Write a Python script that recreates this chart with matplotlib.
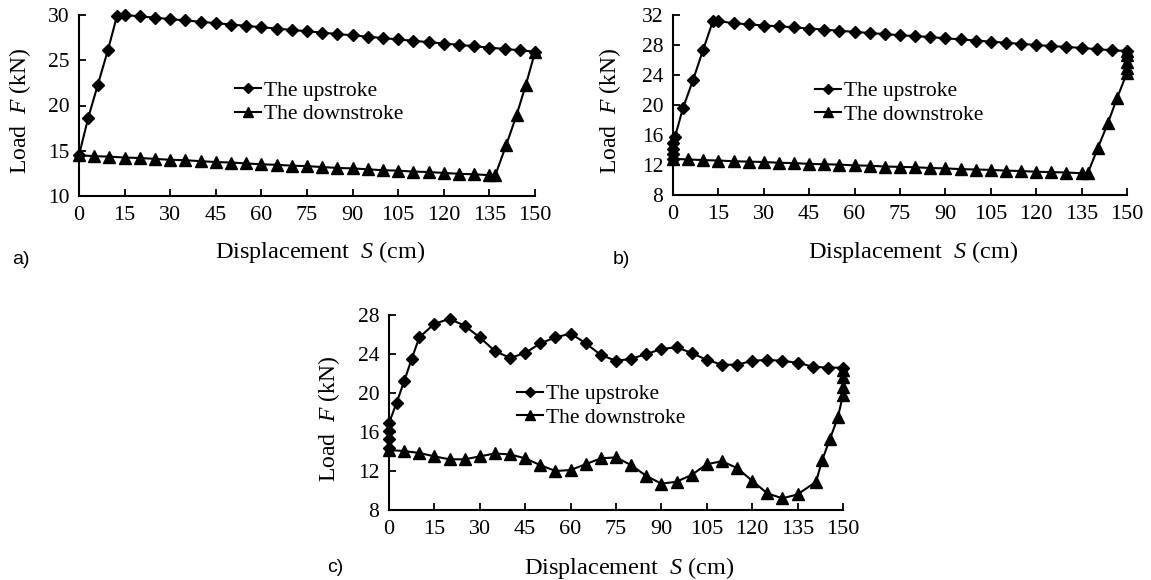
import matplotlib
matplotlib.use('Agg')
import matplotlib.pyplot as plt

# ---------------- data ----------------
x_ticks = [0, 15, 30, 45, 60, 75, 90, 105, 120, 135, 150]
series_names = ['The upstroke', 'The downstroke']

# panel a
a_up_s = [0, 3, 6.2, 9.5, 12.5, 15, 20, 25, 30, 35, 40, 45, 50, 55, 60, 65, 70, 75, 80,
          85, 90, 95, 100, 105, 110, 115, 120, 125, 130, 135, 140, 145, 150]
a_up_f = [14.5, 18.6, 22.3, 26.1, 29.9, 30.0, 29.85, 29.7, 29.55, 29.4, 29.25, 29.1, 28.95,
          28.8, 28.65, 28.5, 28.35, 28.2, 28.05, 27.9, 27.75, 27.6, 27.45, 27.3, 27.15, 27.0,
          26.85, 26.7, 26.55, 26.4, 26.25, 26.1, 25.95]
a_down_s = [150, 147, 144, 140.5, 137, 135, 130, 125, 120, 115, 110, 105, 100, 95, 90, 85,
            80, 75, 70, 65, 60, 55, 50, 45, 40, 35, 30, 25, 20, 15, 10, 5, 0]
a_down_f = [25.9, 22.3, 19.0, 15.6, 12.35, 12.3, 12.4, 12.45, 12.55, 12.65, 12.7, 12.8, 12.85,
            12.95, 13.05, 13.1, 13.2, 13.3, 13.35, 13.45, 13.5, 13.6, 13.7, 13.75, 13.85,
            13.95, 14.0, 14.1, 14.2, 14.25, 14.35, 14.4, 14.5]
a_yticks = [10, 15, 20, 25, 30]

# panel b
b_up_s = [0, 0, 0, 0, 0.7, 3.3, 6.6, 9.9, 13.2, 15, 20, 25, 30, 35, 40, 45, 50, 55, 60, 65,
          70, 75, 80, 85, 90, 95, 100, 105, 110, 115, 120, 125, 130, 135, 140, 145, 150]
b_up_f = [12.8, 13.5, 14.2, 14.9, 15.8, 19.6, 23.3, 27.3, 31.2, 31.2, 30.9, 30.75, 30.6,
          30.5, 30.35, 30.2, 30.05, 29.9, 29.75, 29.6, 29.45, 29.3, 29.2, 29.05, 28.9, 28.75,
          28.6, 28.45, 28.3, 28.15, 28.0, 27.85, 27.75, 27.6, 27.45, 27.3, 27.2]
b_down_s = [150, 150, 150, 150, 150, 146.7, 143.7, 140.4, 137.1, 135, 130, 125, 120, 115,
            110, 105, 100, 95, 90, 85, 80, 75, 70, 65, 60, 55, 50, 45, 40, 35, 30, 25, 20,
            15, 10, 5, 0]
b_down_f = [27.2, 26.7, 25.7, 24.9, 24.3, 20.9, 17.6, 14.3, 10.95, 10.9, 11.0, 11.05, 11.1,
            11.2, 11.25, 11.35, 11.4, 11.45, 11.55, 11.6, 11.7, 11.75, 11.8, 11.9, 11.95,
            12.05, 12.1, 12.15, 12.25, 12.3, 12.4, 12.45, 12.5, 12.6, 12.65, 12.75, 12.8]
b_yticks = [8, 12, 16, 20, 24, 28, 32]

# panel c
c_up_s = [0, 0, 0, 0, 2.5, 5, 7.5, 10, 15, 20, 25, 30, 35, 40, 45, 50, 55, 60, 65, 70, 75,
          80, 85, 90, 95, 100, 105, 110, 115, 120, 125, 130, 135, 140, 145, 150]
c_up_f = [14.4, 15.3, 16.1, 16.9, 19.0, 21.2, 23.5, 25.7, 27.1, 27.6, 26.9, 25.7, 24.3,
          23.6, 24.1, 25.1, 25.7, 26.1, 25.1, 23.9, 23.3, 23.5, 24.0, 24.5, 24.7, 24.1,
          23.4, 22.9, 22.9, 23.3, 23.4, 23.3, 23.1, 22.7, 22.6, 22.6]
c_down_s = [150, 150, 150, 150, 148.3, 145.7, 143.1, 141.1, 135, 130, 125, 120, 115, 110,
            105, 100, 95, 90, 85, 80, 75, 70, 65, 60, 55, 50, 45, 40, 35, 30, 25, 20, 15,
            10, 5, 0]
c_down_f = [22.4, 21.6, 20.6, 19.8, 17.5, 15.3, 13.1, 10.9, 9.6, 9.2, 9.7, 11.0, 12.3, 13.0,
            12.7, 11.6, 10.9, 10.7, 11.5, 12.6, 13.4, 13.3, 12.7, 12.1, 12.0, 12.6, 13.3,
            13.7, 13.8, 13.5, 13.2, 13.2, 13.5, 13.85, 14.05, 14.15]
c_yticks = [8, 12, 16, 20, 24, 28]

# ---------------- style ----------------
plt.rcParams['font.family'] = ['Liberation Serif', 'DejaVu Serif']
plt.rcParams['mathtext.fontset'] = 'custom'
plt.rcParams['mathtext.it'] = 'Liberation Serif:italic'
plt.rcParams['mathtext.rm'] = 'Liberation Serif'

W, H = 1151, 580
fig = plt.figure(figsize=(W / 100, H / 100), dpi=100)


def px_rect(left, top, right, bottom):
    return [left / W, 1 - bottom / H, (right - left) / W, (bottom - top) / H]


panels = [
    dict(rect=px_rect(79, 15, 535, 196), up=(a_up_s, a_up_f), down=(a_down_s, a_down_f),
         yticks=a_yticks, leg=(0.342, 0.516), xlab=(0.528, -0.24), ylab=-0.10,
         tag='a)', tag_xy=(12, 259)),
    dict(rect=px_rect(673, 15, 1127, 195), up=(b_up_s, b_up_f), down=(b_down_s, b_down_f),
         yticks=b_yticks, leg=(0.313, 0.511), xlab=(0.528, -0.245), ylab=-0.11,
         tag='b)', tag_xy=(613, 259)),
    dict(rect=px_rect(389, 315, 843, 510), up=(c_up_s, c_up_f), down=(c_down_s, c_down_f),
         yticks=c_yticks, leg=(0.282, 0.533), xlab=(0.528, -0.23), ylab=-0.104,
         tag='c)', tag_xy=(327, 567)),
]

for p in panels:
    ax = fig.add_axes(p['rect'])
    ax.plot(p['up'][0], p['up'][1], color='black', lw=1.5, marker='D', ms=6.5,
            clip_on=False, zorder=3, label=series_names[0])
    ax.plot(p['down'][0], p['down'][1], color='black', lw=1.5, marker='^', ms=8.5,
            clip_on=False, zorder=4, label=series_names[1])
    ax.set_xlim(0, 150)
    ax.set_ylim(p['yticks'][0], p['yticks'][-1])
    ax.set_xticks(x_ticks)
    ax.set_yticks(p['yticks'])
    for s in ['top', 'right']:
        ax.spines[s].set_visible(False)
    for s in ['left', 'bottom']:
        ax.spines[s].set_linewidth(1.5)
    ax.tick_params(direction='in', length=5, width=1.3, pad=7, colors='black')
    ax.tick_params(axis='x', labelsize=16)
    ax.tick_params(axis='y', labelsize=15.5)
    ax.set_xlabel('Displacement  $S$ (cm)', fontsize=17.5)
    ax.xaxis.set_label_coords(*p['xlab'])
    ax.set_ylabel('Load  $F$ (kN)', fontsize=17)
    ax.yaxis.set_label_coords(p['ylab'], 0.47)
    ax.legend(loc='center left', bbox_to_anchor=p['leg'], frameon=False, borderpad=0,
              borderaxespad=0, handlelength=1.2, handletextpad=0.15, labelspacing=0.15,
              fontsize=15.5, markerscale=0.85)
    fig.text(p['tag_xy'][0] / W, 1 - p['tag_xy'][1] / H, p['tag'], fontsize=14,
             family='Liberation Sans', va='center', ha='left')

fig.savefig('out.png', dpi=100)
